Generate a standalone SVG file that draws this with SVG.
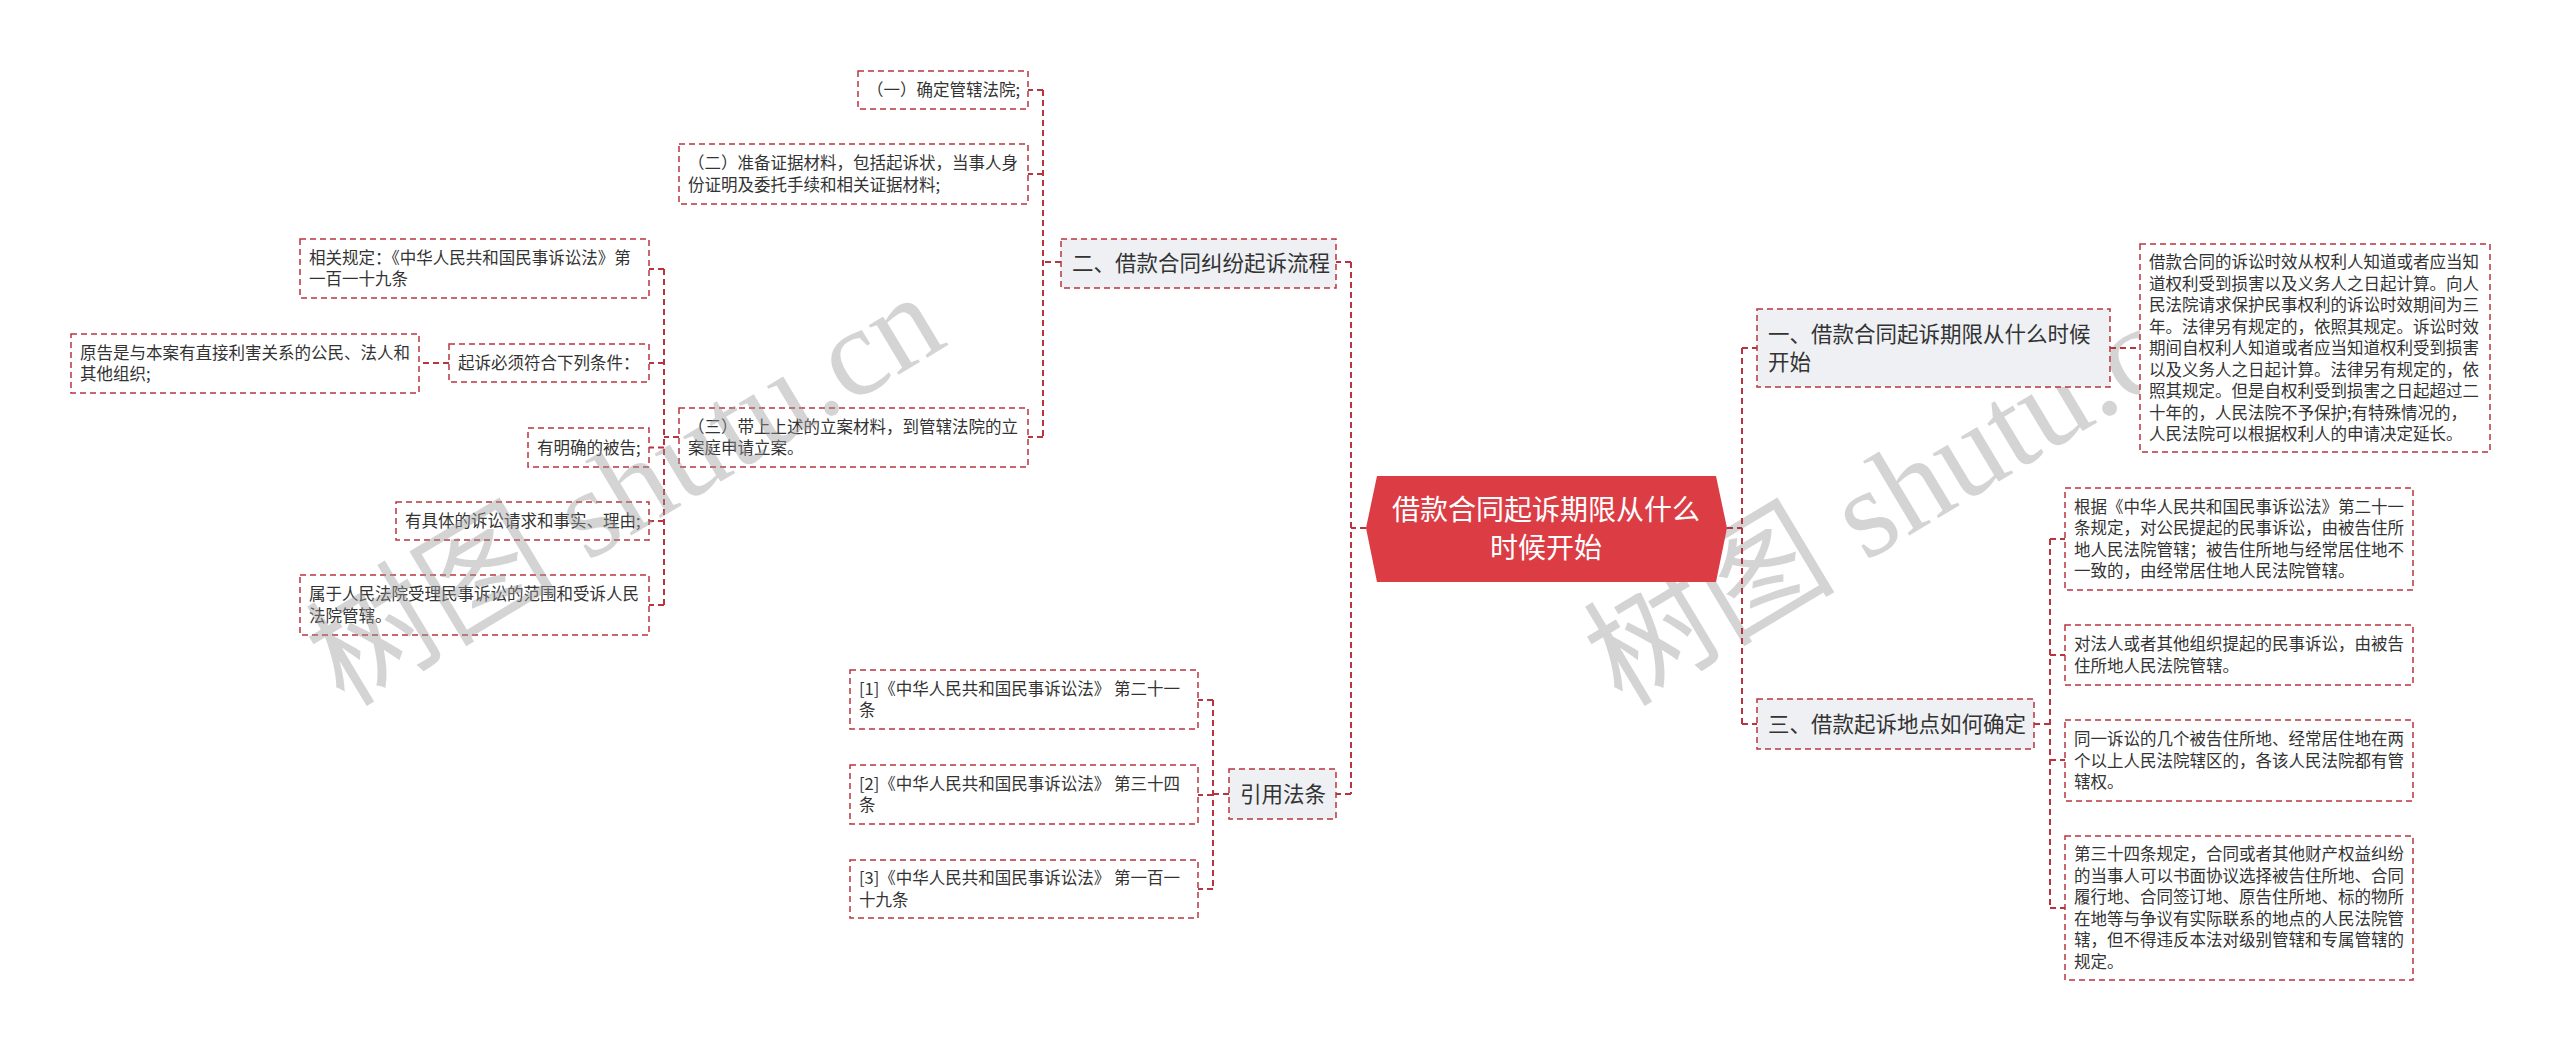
<svg xmlns="http://www.w3.org/2000/svg" width="2560" height="1052" viewBox="0 0 2560 1052">
<style>
.box{fill:#fff;stroke:#b8343f;stroke-width:1.5;stroke-dasharray:6 4}
.l1{fill:#eef0f3;stroke:#b8343f;stroke-width:1.5;stroke-dasharray:6 4}
.conn{fill:none;stroke:#b8343f;stroke-width:2;stroke-dasharray:6 4}
.t{font-family:"Noto Sans CJK SC","Noto Sans",sans-serif;font-size:16.5px;fill:#333}
.t1{font-family:"Noto Sans CJK SC","Noto Sans",sans-serif;font-size:21.5px;fill:#333}
.tc{font-family:"Noto Sans CJK SC","Noto Sans",sans-serif;font-size:28px;fill:#fff;text-anchor:middle}
.wm{font-family:"Liberation Serif","Noto Sans CJK SC",serif;font-size:126px;fill:#9a9a9a;opacity:.42}
</style>
<rect width="2560" height="1052" fill="#fff"/>
<text class="wm" transform="translate(1622,708) rotate(-31)">树图 shutu.cn</text>
<g id="connectors">
<path class="conn" d="M1366 528H1351M1351 262V794M1351 262H1336M1351 794H1336"/>
<path class="conn" d="M1061 262H1043M1043 90V437M1043 90H1028M1043 174H1028M1043 437H1028"/>
<path class="conn" d="M679 437H664M664 269V605M664 269H649M664 363H649M664 447.5H649M664 521H649M664 605H649"/>
<path class="conn" d="M449 363H419"/>
<path class="conn" d="M1229 794H1213M1213 700V889M1213 700H1198M1213 795H1198M1213 889H1198"/>
<path class="conn" d="M1727 528H1742M1742 348V724M1742 348H1757M1742 724H1757"/>
<path class="conn" d="M2110 348H2140"/>
<path class="conn" d="M2034 724H2050M2050 539V908M2050 539H2065M2050 655H2065M2050 760H2065M2050 908H2065"/>
</g>
<g id="root">
<polygon points="1366,528 1377,476 1716,476 1727,528 1716,582 1377,582" fill="#dc3d45"/>
<text class="tc" x="1546" y="520">借款合同起诉期限从什么</text>
<text class="tc" x="1546" y="558">时候开始</text>
</g>
<g id="n2">
<rect class="l1" x="1061" y="239" width="275" height="49"/>
<text class="t1" x="1072" y="271">二、借款合同纠纷起诉流程</text>
</g>
<g id="n2a">
<rect class="box" x="858" y="71" width="170" height="38"/>
<text class="t" x="867" y="96">（一）确定管辖法院;</text>
</g>
<g id="n2b">
<rect class="box" x="679" y="144" width="349" height="60"/>
<text class="t" x="688" y="169.25">（二）准备证据材料，包括起诉状，当事人身</text>
<text class="t" x="688" y="190.75">份证明及委托手续和相关证据材料;</text>
</g>
<g id="n2c">
<rect class="box" x="679" y="408" width="349" height="59"/>
<text class="t" x="688" y="432.75">（三）带上上述的立案材料，到管辖法院的立</text>
<text class="t" x="688" y="454.25">案庭申请立案。</text>
</g>
<g id="n2c1">
<rect class="box" x="300" y="239" width="349" height="59"/>
<text class="t" x="309" y="263.75">相关规定：《中华人民共和国民事诉讼法》第</text>
<text class="t" x="309" y="285.25">一百一十九条</text>
</g>
<g id="n2c2">
<rect class="box" x="449" y="344" width="200" height="38"/>
<text class="t" x="458" y="369">起诉必须符合下列条件：</text>
</g>
<g id="n2c2a">
<rect class="box" x="71" y="334" width="348" height="59"/>
<text class="t" x="80" y="358.75">原告是与本案有直接利害关系的公民、法人和</text>
<text class="t" x="80" y="380.25">其他组织;</text>
</g>
<g id="n2c3">
<rect class="box" x="528" y="428" width="121" height="39"/>
<text class="t" x="537" y="453.5">有明确的被告;</text>
</g>
<g id="n2c4">
<rect class="box" x="396" y="502" width="253" height="38"/>
<text class="t" x="405" y="527">有具体的诉讼请求和事实、理由;</text>
</g>
<g id="n2c5">
<rect class="box" x="300" y="575" width="349" height="60"/>
<text class="t" x="309" y="600.25">属于人民法院受理民事诉讼的范围和受诉人民</text>
<text class="t" x="309" y="621.75">法院管辖。</text>
</g>
<g id="n4">
<rect class="l1" x="1229" y="769" width="107" height="50"/>
<text class="t1" x="1240" y="802">引用法条</text>
</g>
<g id="n4a">
<rect class="box" x="850" y="670" width="348" height="59"/>
<text class="t" x="859" y="694.75">[1]《中华人民共和国民事诉讼法》 第二十一</text>
<text class="t" x="859" y="716.25">条</text>
</g>
<g id="n4b">
<rect class="box" x="850" y="765" width="348" height="59"/>
<text class="t" x="859" y="789.75">[2]《中华人民共和国民事诉讼法》 第三十四</text>
<text class="t" x="859" y="811.25">条</text>
</g>
<g id="n4c">
<rect class="box" x="850" y="860" width="348" height="58"/>
<text class="t" x="859" y="884.25">[3]《中华人民共和国民事诉讼法》 第一百一</text>
<text class="t" x="859" y="905.75">十九条</text>
</g>
<g id="n1">
<rect class="l1" x="1757" y="309" width="353" height="78"/>
<text class="t1" x="1768" y="342">一、借款合同起诉期限从什么时候</text>
<text class="t1" x="1768" y="370">开始</text>
</g>
<g id="n1a">
<rect class="box" x="2140" y="244" width="350" height="208"/>
<text class="t" x="2149" y="268">借款合同的诉讼时效从权利人知道或者应当知</text>
<text class="t" x="2149" y="289.5">道权利受到损害以及义务人之日起计算。向人</text>
<text class="t" x="2149" y="311">民法院请求保护民事权利的诉讼时效期间为三</text>
<text class="t" x="2149" y="332.5">年。法律另有规定的，依照其规定。诉讼时效</text>
<text class="t" x="2149" y="354">期间自权利人知道或者应当知道权利受到损害</text>
<text class="t" x="2149" y="375.5">以及义务人之日起计算。法律另有规定的，依</text>
<text class="t" x="2149" y="397">照其规定。但是自权利受到损害之日起超过二</text>
<text class="t" x="2149" y="418.5">十年的，人民法院不予保护;有特殊情况的，</text>
<text class="t" x="2149" y="440">人民法院可以根据权利人的申请决定延长。</text>
</g>
<g id="n3">
<rect class="l1" x="1757" y="699" width="277" height="50"/>
<text class="t1" x="1768" y="732">三、借款起诉地点如何确定</text>
</g>
<g id="n3a">
<rect class="box" x="2065" y="488" width="348" height="102"/>
<text class="t" x="2074" y="512.75">根据《中华人民共和国民事诉讼法》第二十一</text>
<text class="t" x="2074" y="534.25">条规定，对公民提起的民事诉讼，由被告住所</text>
<text class="t" x="2074" y="555.75">地人民法院管辖；被告住所地与经常居住地不</text>
<text class="t" x="2074" y="577.25">一致的，由经常居住地人民法院管辖。</text>
</g>
<g id="n3b">
<rect class="box" x="2065" y="625" width="348" height="60"/>
<text class="t" x="2074" y="650.25">对法人或者其他组织提起的民事诉讼，由被告</text>
<text class="t" x="2074" y="671.75">住所地人民法院管辖。</text>
</g>
<g id="n3c">
<rect class="box" x="2065" y="720" width="348" height="81"/>
<text class="t" x="2074" y="745">同一诉讼的几个被告住所地、经常居住地在两</text>
<text class="t" x="2074" y="766.5">个以上人民法院辖区的，各该人民法院都有管</text>
<text class="t" x="2074" y="788">辖权。</text>
</g>
<g id="n3d">
<rect class="box" x="2065" y="836" width="348" height="144"/>
<text class="t" x="2074" y="860.25">第三十四条规定，合同或者其他财产权益纠纷</text>
<text class="t" x="2074" y="881.75">的当事人可以书面协议选择被告住所地、合同</text>
<text class="t" x="2074" y="903.25">履行地、合同签订地、原告住所地、标的物所</text>
<text class="t" x="2074" y="924.75">在地等与争议有实际联系的地点的人民法院管</text>
<text class="t" x="2074" y="946.25">辖，但不得违反本法对级别管辖和专属管辖的</text>
<text class="t" x="2074" y="967.75">规定。</text>
</g>
<text class="wm" transform="translate(344,708) rotate(-31)">树图 shutu.cn</text>
</svg>
